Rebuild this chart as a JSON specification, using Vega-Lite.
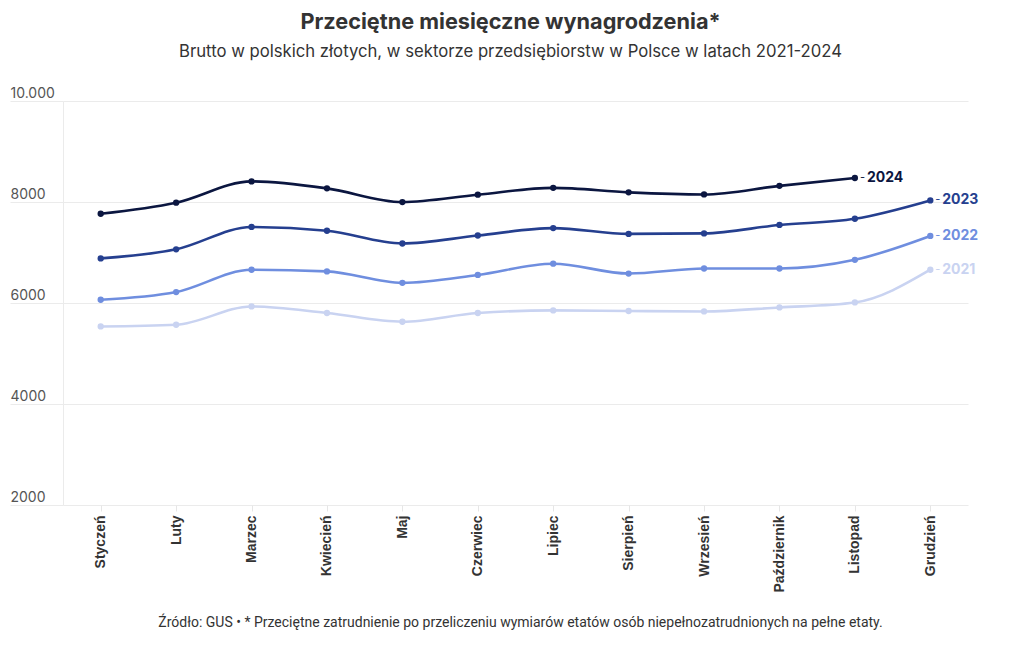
{
  "$schema": "https://vega.github.io/schema/vega-lite/v6.json",
  "autosize": "none",
  "width": 905,
  "height": 404,
  "padding": {"left": 63, "top": 101, "right": 52, "bottom": 145},
  "background": "white",
  "title": {
    "text": "Przeciętne miesięczne wynagrodzenia*",
    "subtitle": "Brutto w polskich złotych, w sektorze przedsiębiorstw w Polsce w latach 2021-2024",
    "anchor": "middle",
    "dx": -5,
    "offset": 25,
    "font": "Inter",
    "fontSize": 21.7,
    "fontWeight": "bold",
    "color": "#333333",
    "subtitleFont": "Inter",
    "subtitleFontSize": 16.7,
    "subtitleColor": "#333333",
    "subtitlePadding": 11
  },
  "config": {"view": {"stroke": null}},
  "data": {
    "values": [
      {"year": "2021", "m": 1, "month": "Styczeń", "value": 5536},
      {"year": "2021", "m": 2, "month": "Luty", "value": 5570},
      {"year": "2021", "m": 3, "month": "Marzec", "value": 5932},
      {"year": "2021", "m": 4, "month": "Kwiecień", "value": 5802},
      {"year": "2021", "m": 5, "month": "Maj", "value": 5629},
      {"year": "2021", "m": 6, "month": "Czerwiec", "value": 5802},
      {"year": "2021", "m": 7, "month": "Lipiec", "value": 5853},
      {"year": "2021", "m": 8, "month": "Sierpień", "value": 5841},
      {"year": "2021", "m": 9, "month": "Wrzesień", "value": 5833},
      {"year": "2021", "m": 10, "month": "Październik", "value": 5912},
      {"year": "2021", "m": 11, "month": "Listopad", "value": 6011},
      {"year": "2021", "m": 12, "month": "Grudzień", "value": 6659},
      {"year": "2022", "m": 1, "month": "Styczeń", "value": 6064},
      {"year": "2022", "m": 2, "month": "Luty", "value": 6216},
      {"year": "2022", "m": 3, "month": "Marzec", "value": 6658},
      {"year": "2022", "m": 4, "month": "Kwiecień", "value": 6626},
      {"year": "2022", "m": 5, "month": "Maj", "value": 6399},
      {"year": "2022", "m": 6, "month": "Czerwiec", "value": 6556},
      {"year": "2022", "m": 7, "month": "Lipiec", "value": 6778},
      {"year": "2022", "m": 8, "month": "Sierpień", "value": 6583},
      {"year": "2022", "m": 9, "month": "Wrzesień", "value": 6683},
      {"year": "2022", "m": 10, "month": "Październik", "value": 6683},
      {"year": "2022", "m": 11, "month": "Listopad", "value": 6855},
      {"year": "2022", "m": 12, "month": "Grudzień", "value": 7328},
      {"year": "2023", "m": 1, "month": "Styczeń", "value": 6883},
      {"year": "2023", "m": 2, "month": "Luty", "value": 7063},
      {"year": "2023", "m": 3, "month": "Marzec", "value": 7506},
      {"year": "2023", "m": 4, "month": "Kwiecień", "value": 7431},
      {"year": "2023", "m": 5, "month": "Maj", "value": 7178},
      {"year": "2023", "m": 6, "month": "Czerwiec", "value": 7336},
      {"year": "2023", "m": 7, "month": "Lipiec", "value": 7483},
      {"year": "2023", "m": 8, "month": "Sierpień", "value": 7368},
      {"year": "2023", "m": 9, "month": "Wrzesień", "value": 7378},
      {"year": "2023", "m": 10, "month": "Październik", "value": 7546},
      {"year": "2023", "m": 11, "month": "Listopad", "value": 7668},
      {"year": "2023", "m": 12, "month": "Grudzień", "value": 8032},
      {"year": "2024", "m": 1, "month": "Styczeń", "value": 7768},
      {"year": "2024", "m": 2, "month": "Luty", "value": 7986},
      {"year": "2024", "m": 3, "month": "Marzec", "value": 8408},
      {"year": "2024", "m": 4, "month": "Kwiecień", "value": 8270},
      {"year": "2024", "m": 5, "month": "Maj", "value": 7999},
      {"year": "2024", "m": 6, "month": "Czerwiec", "value": 8145},
      {"year": "2024", "m": 7, "month": "Lipiec", "value": 8280},
      {"year": "2024", "m": 8, "month": "Sierpień", "value": 8191},
      {"year": "2024", "m": 9, "month": "Wrzesień", "value": 8150},
      {"year": "2024", "m": 10, "month": "Październik", "value": 8320},
      {"year": "2024", "m": 11, "month": "Listopad", "value": 8475}
    ]
  },
  "encoding": {
    "x": {
      "field": "month",
      "type": "ordinal",
      "sort": ["Styczeń", "Luty", "Marzec", "Kwiecień", "Maj", "Czerwiec", "Lipiec", "Sierpień", "Wrzesień", "Październik", "Listopad", "Grudzień"],
      "scale": {"type": "point", "padding": 0.5},
      "axis": {
        "title": "Źródło: GUS • * Przeciętne zatrudnienie po przeliczeniu wymiarów etatów osób niepełnozatrudnionych na pełne etaty.",
        "titleFont": "Roboto",
        "titleFontSize": 14,
        "titleFontWeight": "normal",
        "titleColor": "#333333",
        "titlePadding": 23,
        "titleX": 457,
        "labelAngle": -90,
        "labelFont": "Liberation Sans",
        "labelFontSize": 14,
        "labelFontWeight": "bold",
        "labelColor": "#333333",
        "labelPadding": 4,
        "tickSize": 6,
        "tickColor": "#e6e6e6",
        "domain": false,
        "grid": false
      }
    },
    "y": {
      "field": "value",
      "type": "quantitative",
      "scale": {"domain": [2000, 10000], "nice": false, "zero": false},
      "axis": {
        "title": null,
        "values": [2000, 4000, 6000, 8000, 10000],
        "grid": true,
        "gridColor": "#ebebeb",
        "domainColor": "#ebebeb",
        "ticks": true,
        "tickSize": 53,
        "tickColor": "#ebebeb",
        "labelPadding": 0,
        "labelAlign": "left",
        "labelBaseline": "alphabetic",
        "labelOffset": -4,
        "labelBound": false,
        "labelFlush": false,
        "labelFont": "Inter",
        "labelFontSize": 14,
        "labelColor": "#555555",
        "labelExpr": "datum.value == 10000 ? '10.000' : '' + datum.value"
      }
    },
    "color": {
      "field": "year",
      "type": "nominal",
      "scale": {"domain": ["2021", "2022", "2023", "2024"], "range": ["#c9d3f1", "#6f8edf", "#253f8f", "#0b1640"]},
      "legend": null
    }
  },
  "layer": [
    {"mark": {"type": "line", "interpolate": "monotone", "strokeWidth": 2.6}},
    {"mark": {"type": "point", "filled": true, "size": 40, "opacity": 1}},
    {
      "transform": [
        {"joinaggregate": [{"op": "max", "field": "m", "as": "maxm"}], "groupby": ["year"]},
        {"filter": "datum.m == datum.maxm"}
      ],
      "layer": [
        {"mark": {"type": "text", "text": "-", "align": "left", "baseline": "middle", "dx": 5, "fontSize": 11, "font": "Inter"}},
        {"mark": {"type": "text", "align": "left", "baseline": "middle", "dx": 12, "fontSize": 14, "fontWeight": "bold", "font": "Inter"}, "encoding": {"text": {"field": "year"}}}
      ]
    }
  ]
}
